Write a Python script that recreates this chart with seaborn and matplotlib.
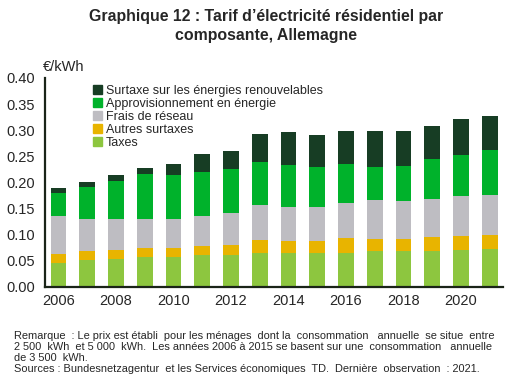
import numpy as np
import pandas as pd
import matplotlib.pyplot as plt
import seaborn as sns
from matplotlib.patches import Patch

# Données (€/kWh)
annees = list(range(2006, 2022))
taxes = [0.046, 0.051, 0.054, 0.057, 0.057, 0.061, 0.061, 0.066,
         0.066, 0.066, 0.066, 0.069, 0.069, 0.069, 0.070, 0.072]
autres_surtaxes = [0.017, 0.017, 0.016, 0.017, 0.017, 0.017, 0.019, 0.023,
                   0.022, 0.022, 0.027, 0.023, 0.023, 0.027, 0.027, 0.028]
frais_reseau = [0.073, 0.063, 0.060, 0.057, 0.057, 0.058, 0.061, 0.067,
                0.066, 0.065, 0.067, 0.074, 0.072, 0.072, 0.077, 0.076]
approvisionnement = [0.043, 0.060, 0.072, 0.085, 0.083, 0.084, 0.084, 0.083,
                     0.079, 0.076, 0.075, 0.063, 0.067, 0.076, 0.078, 0.086]
surtaxe_enr = [0.010, 0.009, 0.012, 0.012, 0.021, 0.034, 0.035, 0.053,
               0.063, 0.061, 0.063, 0.069, 0.067, 0.065, 0.069, 0.065]

composantes = ['Taxes', 'Autres surtaxes', 'Frais de réseau',
               'Approvisionnement en énergie',
               'Surtaxe sur les énergies renouvelables']
couleurs = ['#8dc63f', '#e8b400', '#bebdc2', '#00b22b', '#173d24']

df = pd.DataFrame({
    'Année': [str(a) for a in annees],
    'Taxes': taxes,
    'Autres surtaxes': autres_surtaxes,
    'Frais de réseau': frais_reseau,
    'Approvisionnement en énergie': approvisionnement,
    'Surtaxe sur les énergies renouvelables': surtaxe_enr,
})
cumul = df[composantes].cumsum(axis=1)
cumul['Année'] = df['Année']

sns.set_style('white')
plt.rcParams['font.family'] = ['Liberation Sans', 'DejaVu Sans']

fig = plt.figure(figsize=(5.19, 3.86), dpi=100)
ax = fig.add_axes([0.0867, 0.2565, 0.882, 0.5415])

# barres empilées : on dessine les cumuls du plus haut au plus bas
for comp, coul in zip(composantes[::-1], couleurs[::-1]):
    sns.barplot(data=cumul, x='Année', y=comp, color=coul, saturation=1,
                width=0.55, ax=ax, linewidth=0)

ax.set_ylim(0, 0.40)
ax.set_yticks(np.arange(0, 0.41, 0.05))
ax.set_yticklabels([f'{v:.2f}' for v in np.arange(0, 0.41, 0.05)])
ax.set_xlim(-0.47, 15.45)
ax.set_xticks(range(0, 16, 2))
ax.set_xticklabels([str(a) for a in annees[::2]])
ax.set_xlabel('')
ax.set_ylabel('')
ax.tick_params(axis='both', labelsize=10.5, length=0, pad=7)
ax.tick_params(axis='x', pad=5)
sns.despine(ax=ax)
for s in ['left', 'bottom']:
    ax.spines[s].set_color('#1a2418')
    ax.spines[s].set_linewidth(1.6)

handles = [Patch(color=c, label=l) for l, c in zip(composantes[::-1], couleurs[::-1])]
ax.legend(handles=handles, loc='upper left', bbox_to_anchor=(0.095, 0.99),
          frameon=False, fontsize=9, handlelength=0.7, handleheight=0.7,
          handletextpad=0.3, labelspacing=0.08, borderaxespad=0)

fig.text(0.083, 1 - 67 / 386, '€/kWh', fontsize=10.5, ha='left', va='center')
fig.text(0.512, 1 - 9 / 386, 'Graphique 12 : Tarif d’électricité résidentiel par\ncomposante, Allemagne',
         fontsize=11.4, fontweight='bold', ha='center', va='top', linespacing=1.3)

notes = ['Remarque  : Le prix est établi  pour les ménages  dont la  consommation   annuelle  se situe  entre',
         '2 500  kWh  et 5 000  kWh.  Les années 2006 à 2015 se basent sur une  consommation   annuelle',
         'de 3 500  kWh.',
         'Sources : Bundesnetzagentur  et les Services économiques  TD.  Dernière  observation  : 2021.']
for i, ligne in enumerate(notes):
    fig.text(0.027, 1 - (336 + 11 * i) / 386, ligne, fontsize=7.9, ha='left', va='center')

fig.savefig('out.png', dpi=100)
